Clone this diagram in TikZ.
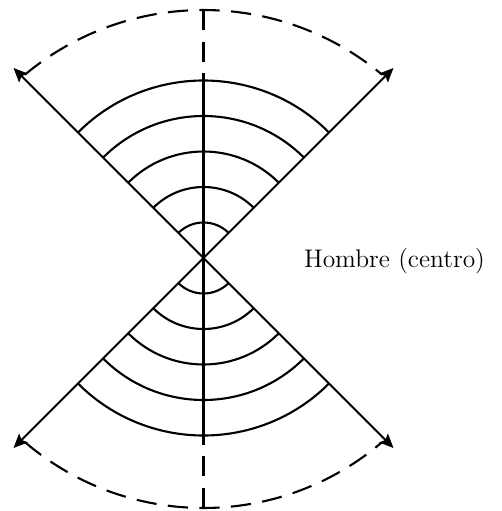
\documentclass[tikz,border=0pt]{standalone}
\usepackage{tikz}
\usetikzlibrary{arrows.meta}

\begin{document}
\begin{tikzpicture}[x=0.02cm,y=0.02cm,line width=1.2pt]
  \useasboundingbox (-203.5,-253) rectangle (297.5,258); % 余白を含めた図の範囲
  \coordinate (centro) at (0,0); % 中心（人）
  \coordinate (ne) at (190,190); % 右上の矢印の先端
  \coordinate (nw) at (-190,190); % 左上の矢印の先端
  \coordinate (se) at (190,-190); % 右下の矢印の先端
  \coordinate (sw) at (-190,-190); % 左下の矢印の先端
  \coordinate (arriba) at (0,177.5); % 上側の一番外の弧と縦線の交点
  \coordinate (abajo) at (0,-177.5); % 下側の一番外の弧と縦線の交点
  \coordinate (tope) at (0,248); % 上の破線の弧の頂点
  \coordinate (fondo) at (0,-250); % 下の破線の弧の底
  \foreach \k in {1,...,5}{
    \draw (135:\k*35.5) arc[start angle=135,end angle=45,radius=\k*35.5]; % 上側の同心円弧
    \draw (225:\k*35.5) arc[start angle=225,end angle=315,radius=\k*35.5]; % 下側の同心円弧
  }
  \draw (arriba) -- (abajo); % 中心を通る縦の実線
  \draw[dash pattern=on 11.5pt off 6.5pt] (tope) -- (arriba); % 上へ伸びる縦の破線
  \draw[dash pattern=on 11.5pt off 6.5pt] (fondo) -- (abajo); % 下へ伸びる縦の破線
  \draw[dash pattern=on 11.5pt off 6.5pt] ([shift={(0,-31)}]129.8:279) arc[start angle=129.8,end angle=50.2,radius=279]; % 上の破線の弧
  \draw[dash pattern=on 11.5pt off 6.5pt] ([shift={(0,25)}]229.6:275) arc[start angle=229.6,end angle=310.4,radius=275]; % 下の破線の弧
  \foreach \p in {ne,nw,se,sw}
    \draw[-{Stealth[length=8pt,width=7pt,inset=1.5pt]}] (centro) -- (\p); % 中心から斜めに伸びる矢印
  \node[anchor=base west,inner sep=0pt,font=\fontsize{14.5}{17}\selectfont] (hombre) at (99.5,-9.3) {Hombre (centro)}; % 中心の説明
\end{tikzpicture}
\end{document}
